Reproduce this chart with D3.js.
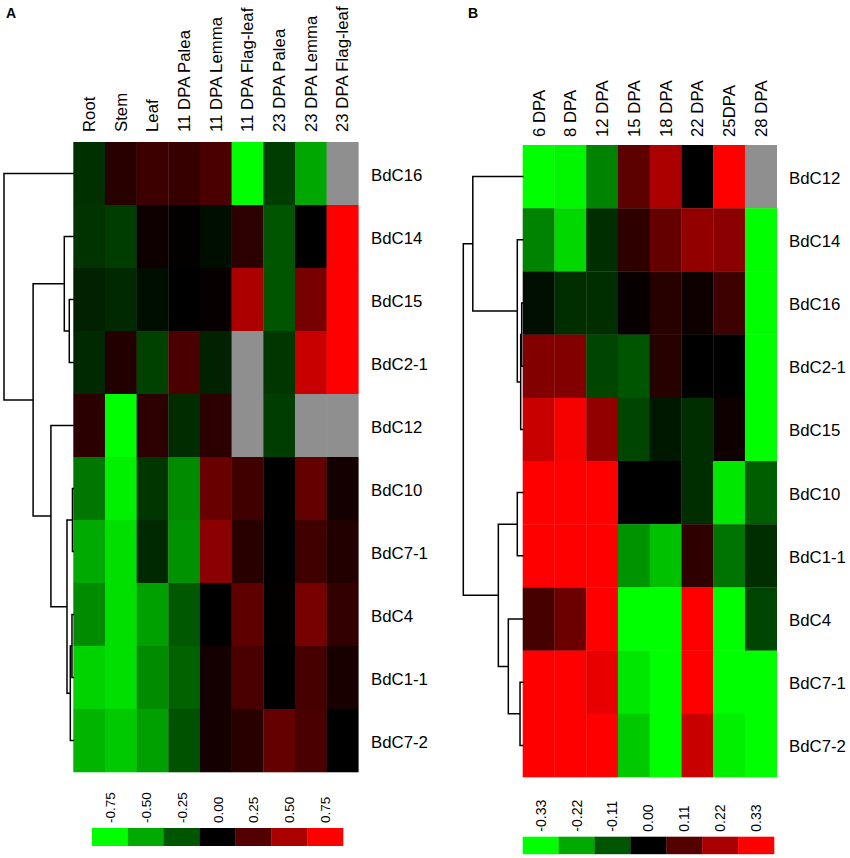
<!DOCTYPE html>
<html>
<head>
<meta charset="utf-8">
<script src="https://cdn.jsdelivr.net/npm/d3@7"></script>
<style>
  html, body { margin: 0; padding: 0; background: #fff; }
  svg { display: block; font-family: "Liberation Sans", Arial, sans-serif; }
</style>
</head>
<body>
<svg id="chart" width="850" height="858"></svg>
<script>
// ---------- Panel A data ----------
const colsA = ["Root", "Stem", "Leaf", "11 DPA Palea", "11 DPA Lemma", "11 DPA Flag-leaf",
               "23 DPA Palea", "23 DPA Lemma", "23 DPA Flag-leaf"];
const rowsA = ["BdC16", "BdC14", "BdC15", "BdC2-1", "BdC12", "BdC10", "BdC7-1", "BdC4", "BdC1-1", "BdC7-2"];
const valuesA = [
  [-0.14,  0.12,  0.18,  0.16,  0.22, -0.80, -0.18, -0.49, null],
  [-0.15, -0.18,  0.04,  0.01, -0.04,  0.13, -0.25,  0.00, 0.80],
  [-0.10, -0.12, -0.04,  0.00,  0.02,  0.50, -0.25,  0.35, 0.80],
  [-0.12,  0.10, -0.19,  0.22, -0.10,  null, -0.16,  0.59, 0.80],
  [ 0.13, -0.80,  0.13, -0.13,  0.13,  null, -0.18,  null, null],
  [-0.35, -0.71, -0.16, -0.41,  0.31,  0.19,  0.00,  0.29, 0.06],
  [-0.50, -0.66, -0.12, -0.43,  0.41,  0.12,  0.00,  0.19, 0.10],
  [-0.41, -0.66, -0.47, -0.26,  0.00,  0.28,  0.01,  0.35, 0.15],
  [-0.62, -0.66, -0.41, -0.29,  0.06,  0.22,  0.00,  0.21, 0.07],
  [-0.53, -0.59, -0.47, -0.24,  0.06,  0.12,  0.29,  0.22, 0.00]
];
const ticksA = ["-0.75", "-0.50", "-0.25", "0.00", "0.25", "0.50", "0.75"];
// dendrogram (merge heights relative to root)
const treeA = {h: 1, c: [
  "BdC16",
  {h: 0.58, c: [
    {h: 0.13, c: ["BdC14", {h: 0.058, c: ["BdC15", "BdC2-1"]}]},
    {h: 0.323, c: [
      "BdC12",
      {h: 0.091, c: [
        {h: 0.012, c: ["BdC10", "BdC7-1"]},
        {h: 0.043, c: [{h: 0.019, c: ["BdC4", "BdC1-1"]}, "BdC7-2"]}
      ]}
    ]}
  ]}
]};

// ---------- Panel B data ----------
const colsB = ["6 DPA", "8 DPA", "12 DPA", "15 DPA", "18 DPA", "22 DPA", "25DPA", "28 DPA"];
const rowsB = ["BdC12", "BdC14", "BdC16", "BdC2-1", "BdC15", "BdC10", "BdC1-1", "BdC4", "BdC7-1", "BdC7-2"];
const valuesB = [
  [-0.35, -0.32, -0.17,  0.12,  0.22,  0.00,  0.35,  null],
  [-0.17, -0.28, -0.06,  0.06,  0.13,  0.19,  0.18, -0.35],
  [-0.02, -0.06, -0.06,  0.01,  0.05,  0.02,  0.08, -0.35],
  [ 0.17,  0.17, -0.09, -0.11,  0.05,  0.00,  0.00, -0.35],
  [ 0.26,  0.32,  0.19, -0.09, -0.03, -0.06,  0.02, -0.35],
  [ 0.35,  0.35,  0.35,  0.00,  0.00, -0.06, -0.30, -0.12],
  [ 0.35,  0.35,  0.35, -0.19, -0.25,  0.06, -0.15, -0.06],
  [ 0.09,  0.14,  0.35, -0.35, -0.35,  0.35, -0.35, -0.09],
  [ 0.35,  0.35,  0.30, -0.30, -0.35,  0.35, -0.35, -0.35],
  [ 0.35,  0.35,  0.35, -0.26, -0.35,  0.26, -0.31, -0.35]
];
const ticksB = ["-0.33", "-0.22", "-0.11", "0.00", "0.11", "0.22", "0.33"];
const treeB = {h: 1, c: [
  {h: 0.84, c: [
    "BdC12",
    {h: 0.091, c: ["BdC14", {h: 0.034, c: [{h: 0.017, c: ["BdC16", "BdC2-1"]}, "BdC15"]}]}
  ]},
  {h: 0.41, c: [
    {h: 0.091, c: ["BdC10", "BdC1-1"]},
    {h: 0.242, c: ["BdC4", {h: 0.045, c: ["BdC7-1", "BdC7-2"]}]}
  ]}
]};

// ---------- drawing ----------
const svg = d3.select("#chart");
const FONT = 16.8;
const NA = "#8f8f8f";

function panel(cfg) {
  const g = svg.append("g");
  const x = d3.scaleBand().domain(cfg.cols).range(cfg.xRange);
  const y = d3.scaleBand().domain(cfg.rows).range(cfg.yRange);
  const m = cfg.max;
  const color = d3.scaleLinear().domain([-m, 0, m])
    .range(["#00ff00", "#000000", "#ff0000"]).clamp(true);

  // cells
  const cells = [];
  cfg.values.forEach((row, i) => row.forEach((v, j) =>
    cells.push({r: cfg.rows[i], c: cfg.cols[j], v})));
  g.append("g").selectAll("rect").data(cells).join("rect")
    .attr("x", d => x(d.c)).attr("y", d => y(d.r))
    .attr("width", x.bandwidth() + 0.3).attr("height", y.bandwidth() + 0.3)
    .attr("fill", d => d.v === null ? NA : color(d.v));

  // column labels
  g.append("g").selectAll("text").data(cfg.cols).join("text")
    .attr("transform", d => `translate(${x(d) + x.bandwidth() / 2 + 6},${cfg.colLabelY}) rotate(-90)`)
    .attr("font-size", FONT).attr("fill", "#000")
    .text(d => d);

  // row labels
  g.append("g").selectAll("text").data(cfg.rows).join("text")
    .attr("x", cfg.rowLabelX).attr("y", d => y(d) + y.bandwidth() / 2 + 7)
    .attr("font-size", FONT).attr("fill", "#000")
    .text(d => d);

  // dendrogram
  const root = d3.hierarchy(cfg.tree, d => (typeof d === "string") ? null : d.c);
  const hx = d3.scaleLinear().domain([0, 1]).range([cfg.xRange[0], cfg.dendroLeft]);
  root.eachAfter(n => {
    if (!n.children) { n.py = y(n.data) + y.bandwidth() / 2; n.px = hx(0); }
    else {
      n.py = d3.mean(n.children, c => c.py);
      n.px = hx(n.data.h);
    }
  });
  const paths = [];
  root.each(n => {
    if (!n.children) return;
    const ys = n.children.map(c => c.py);
    paths.push(`M${n.px},${d3.min(ys)}V${d3.max(ys)}`);
    n.children.forEach(c => paths.push(`M${n.px},${c.py}H${c.px}`));
  });
  g.append("path").attr("d", paths.join(""))
    .attr("fill", "none").attr("stroke", "#000").attr("stroke-width", 1.5)
    .attr("stroke-linecap", "square");

  // legend
  const lx = d3.scaleBand().domain(cfg.ticks).range(cfg.legX);
  g.append("g").selectAll("rect").data(cfg.ticks).join("rect")
    .attr("x", d => lx(d)).attr("y", cfg.legY)
    .attr("width", lx.bandwidth() + 0.3).attr("height", cfg.legH)
    .attr("fill", d => color(+d));
  g.append("g").selectAll("text").data(cfg.ticks).join("text")
    .attr("transform", d => `translate(${lx(d) + lx.bandwidth() / 2 + 5},${cfg.legLabelY}) rotate(-90)`)
    .attr("font-size", cfg.legFont).attr("fill", "#000")
    .text(d => d);

  // panel letter
  svg.append("text").attr("x", cfg.letterX).attr("y", 18)
    .attr("font-size", 14).attr("font-weight", "bold").text(cfg.letter);
}

panel({
  letter: "A", letterX: 6,
  cols: colsA, rows: rowsA, values: valuesA, tree: treeA, ticks: ticksA, max: 0.75,
  xRange: [73.3, 358.3], yRange: [142, 772], dendroLeft: 4,
  colLabelY: 132, rowLabelX: 371,
  legX: [92, 343], legY: 828, legH: 18, legLabelY: 823, legFont: 13.5
});

panel({
  letter: "B", letterX: 468,
  cols: colsB, rows: rowsB, values: valuesB, tree: treeB, ticks: ticksB, max: 0.33,
  xRange: [522.7, 776.7], yRange: [145, 777], dendroLeft: 463.3,
  colLabelY: 137, rowLabelX: 789,
  legX: [522.7, 774], legY: 836.7, legH: 17.5, legLabelY: 831.7, legFont: 14
});
</script>
</body>
</html>
